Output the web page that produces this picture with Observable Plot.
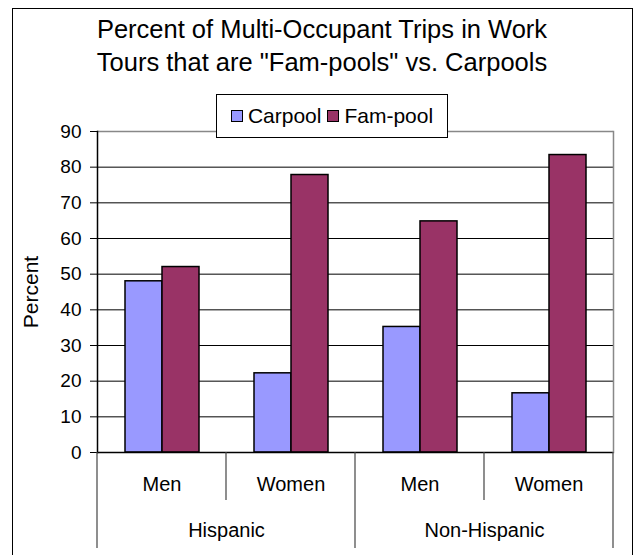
<!DOCTYPE html>
<html>
<head>
<meta charset="utf-8">
<script src="https://cdn.jsdelivr.net/npm/d3@7"></script>
<script src="https://cdn.jsdelivr.net/npm/@observablehq/plot@0.6"></script>
<style>
  html, body { margin: 0; padding: 0; background: #fff; }
  body { width: 640px; height: 555px; overflow: hidden; font-family: "Liberation Sans", Arial, sans-serif; color: #000; }
  #wrap { position: relative; width: 640px; height: 555px; }
  #border { position: absolute; left: 12px; top: 8px; width: 621px; height: 560px; border: 1px solid #000; box-sizing: border-box; pointer-events: none; }
  #title { height: 85px; box-sizing: border-box; padding-top: 13px; text-align: center; font-size: 25.5px; line-height: 33px; padding-left: 4px; white-space: nowrap; }
  #legend { position: absolute; left: 216px; top: 94px; width: 232px; height: 44px; box-sizing: border-box; border: 1px solid #000; background: #fff; display: flex; align-items: center; justify-content: center; font-size: 21px; z-index: 2; }
  #legend .item { display: flex; align-items: center; margin: 0 3px; }
  #legend .sw { width: 12px; height: 12px; border: 1px solid #000; margin-right: 5px; box-sizing: border-box; }
  #chart svg { display: block; }
</style>
</head>
<body>
<div id="wrap">
  <div id="title">Percent of Multi-Occupant Trips in Work<br>Tours that are "Fam-pools" vs. Carpools</div>
  <div id="legend"></div>
  <div id="chart"></div>
  <div id="border"></div>
</div>
<script>
// ---- data ----
const groups = ["Hispanic|Men", "Hispanic|Women", "Non-Hispanic|Men", "Non-Hispanic|Women"];
const sexLabels = ["Men", "Women", "Men", "Women"];
const ethnicities = ["Hispanic", "Non-Hispanic"];
const ethnicityFirstGroup = ["Hispanic|Men", "Non-Hispanic|Men"];
const series = ["Carpool", "Fam-pool"];
const carpool = [48, 22.2, 35.2, 16.6];
const fampool = [52, 77.8, 64.8, 83.4];
const yTicks = [0, 10, 20, 30, 40, 50, 60, 70, 80, 90];
const colors = ["#9999ff", "#993366"];

const data = groups.flatMap((g, i) => [
  {group: g, series: "Carpool", value: carpool[i]},
  {group: g, series: "Fam-pool", value: fampool[i]}
]);
const ethData = ethnicities.map((e, i) => ({name: e, group: ethnicityFirstGroup[i]}));
const sexOf = Object.fromEntries(groups.map((g, i) => [g, sexLabels[i]]));

// legend
const legend = document.getElementById("legend");
series.forEach((s, i) => {
  const it = document.createElement("div");
  it.className = "item";
  const sw = document.createElement("div");
  sw.className = "sw";
  sw.style.background = colors[i];
  const t = document.createElement("span");
  t.textContent = s;
  it.append(sw, t);
  legend.append(it);
});

const chart = Plot.plot({
  width: 640,
  height: 470,
  marginTop: 46,
  marginBottom: 103,
  marginLeft: 96,
  marginRight: 27,
  style: {fontFamily: "'Liberation Sans', Arial, sans-serif", color: "#000", background: "transparent", overflow: "visible"},
  fx: {domain: groups, padding: 0},
  x: {domain: series, paddingInner: 0, paddingOuter: 0.70, axis: null},
  y: {domain: [0, 90]},
  color: {domain: series, range: colors},
  marks: [
    Plot.ruleY(yTicks.filter(d => d > 0 && d < 90), {stroke: "#000", strokeWidth: 1}),
    Plot.ruleY([90], {stroke: "#888", strokeWidth: 1.5}),
    Plot.barY(data, {fx: "group", x: "series", y: "value", fill: "series", stroke: "#000", strokeWidth: 1.5}),
    Plot.ruleY([0], {stroke: "#000", strokeWidth: 1.5}),
    Plot.frame({anchor: "left", facetAnchor: "left", stroke: "#000", strokeWidth: 1.5}),
    Plot.frame({anchor: "right", facetAnchor: "right", stroke: "#888", strokeWidth: 1.5}),
    Plot.axisY({ticks: yTicks, tickSize: 7, tickPadding: 9, fontSize: 19, label: "Percent", labelAnchor: "center", labelOffset: 74, labelArrow: "none"}),
    Plot.axisFx({anchor: "bottom", tickSize: 0, tickPadding: 24, fontSize: 20, tickFormat: g => sexOf[g], label: null}),
    Plot.text(ethData, {fx: "group", text: "name", frameAnchor: "bottom-right", textAnchor: "middle", lineAnchor: "middle", dy: 78, fontSize: 20})
  ]
});
document.getElementById("chart").append(chart);

// category separators below the axis, positioned with the chart's own scales
const fx = chart.scale("fx");
const ys = chart.scale("y");
const yBottom = ys.apply(0);
const svg = d3.select(chart.tagName.toLowerCase() === "svg" ? chart : chart.querySelector("svg"));
svg.selectAll("[aria-label='y-axis label'] text, [aria-label='y-axis label']").attr("font-size", 21);
const edges = groups.map(g => fx.apply(g)).concat([fx.apply(groups[groups.length - 1]) + fx.bandwidth]);
svg.append("g")
  .selectAll("line")
  .data(edges)
  .join("line")
  .attr("x1", d => d).attr("x2", d => d)
  .attr("y1", yBottom)
  .attr("y2", (d, i) => yBottom + (i % 2 === 0 ? 96 : 48))
  .attr("stroke", "#444")
  .attr("stroke-width", 1.2);
</script>
</body>
</html>
